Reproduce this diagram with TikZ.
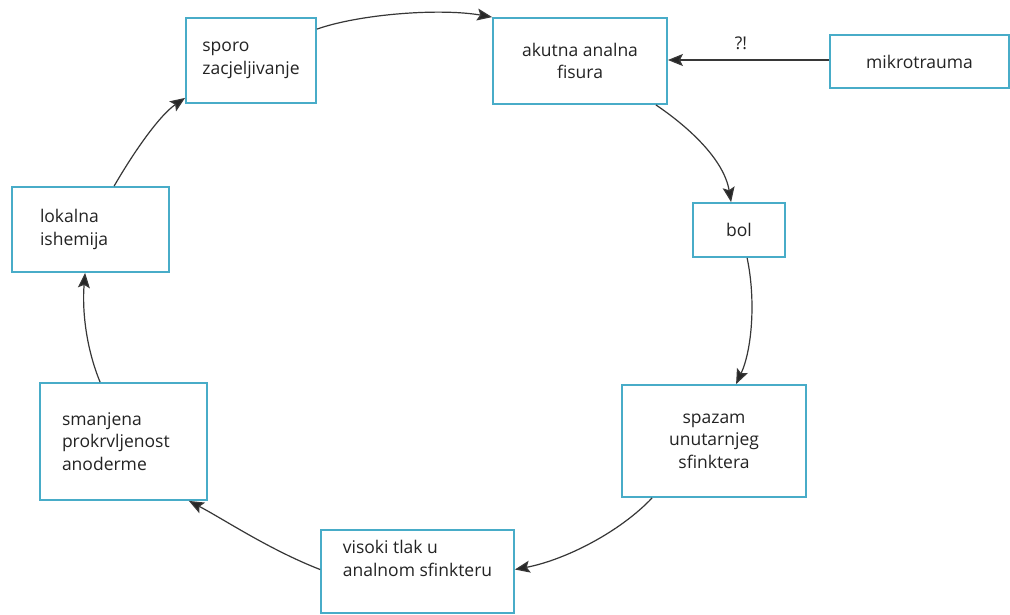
\documentclass[tikz,border=0pt]{standalone}
\usepackage{fontspec}
\setmainfont{Open Sans}
\usetikzlibrary{arrows.meta,calc}
\definecolor{boxblue}{RGB}{72,172,200}
\definecolor{arrgray}{RGB}{55,55,55}
\definecolor{textgray}{RGB}{35,35,35}
\begin{document}
\begin{tikzpicture}[x=1pt,y=-1pt,
  box/.style={draw=boxblue, line width=1.8pt, rectangle, inner sep=0pt,
    font=\fontsize{17.5}{22.5}\selectfont, text=textgray},
  lbl/.style={font=\fontsize{17.5}{22.5}\selectfont, text=textgray, inner sep=0pt},
  conn/.style={draw=arrgray, line width=1.2pt, -{Stealth[length=15pt,width=12pt,inset=3pt,fill=black!85]}}]
\useasboundingbox (0,0) rectangle (1010,615);
\fill[white] (0,0) rectangle (1010,615);

\node[box, minimum width=130pt, minimum height=85pt, align=left] (sporo) at (251,60.5) {sporo\\zacjeljivanje};
\node[box, minimum width=174pt, minimum height=86pt, align=center] (akutna) at (580,61) {akutna analna\\fisura};
\node[box, minimum width=179pt, minimum height=53pt] (mikro) at (919.5,61.5) {mikrotrauma};
\node[lbl] (q) at (741,43) {?!};
\node[box, minimum width=92pt, minimum height=54pt] (bol) at (739,230) {bol};
\node[box, minimum width=184pt, minimum height=112pt, align=center] (spazam) at (714,441) {spazam\\unutarnjeg\\sfinktera};
\node[box, minimum width=193pt, minimum height=83pt, align=left] (visoki) at (417.5,571.5) {visoki tlak u\\analnom sfinkteru\\[4pt]};
\node[box, minimum width=167pt, minimum height=117pt, text width=123pt, align=left] (smanjena) at (123.5,441.5) {smanjena\\prokrvljenost\\anoderme};
\node[box, minimum width=157pt, minimum height=85pt, text width=101pt, align=left] (lokalna) at (90.5,229.5) {lokalna\\ishemija};

\draw[conn] ($(sporo.north east)+(0,12)$) .. controls (360,14) and (440,8) .. (akutna.north west);
\draw[conn] ($(akutna.south east)+(-12,0)$) .. controls (690,128) and (724,160) .. ($(bol.north west)+(39,0)$);
\draw[conn] ($(bol.south west)+(55,0)$) .. controls (756,300) and (752,350) .. ($(spazam.north west)+(115,0)$);
\draw[conn] ($(spazam.south west)+(31,0)$) .. controls (620,532) and (565,560) .. ($(visoki.east)+(0,-2)$);
\draw[conn] ($(visoki.west)+(0,-2)$) .. controls (270,550) and (225,520) .. ($(smanjena.south east)+(-19,0)$);
\draw[conn] ($(smanjena.north west)+(61,0)$) .. controls (86,348) and (82,310) .. ($(lokalna.south west)+(74,0)$);
\draw[conn] ($(lokalna.north west)+(103,0)$) .. controls (135,150) and (160,115) .. ($(sporo.south west)+(0,-6)$);
\draw[conn] ($(mikro.west)+(0,-1.5)$) -- ($(akutna.east)+(0,-1)$);
\end{tikzpicture}
\end{document}
